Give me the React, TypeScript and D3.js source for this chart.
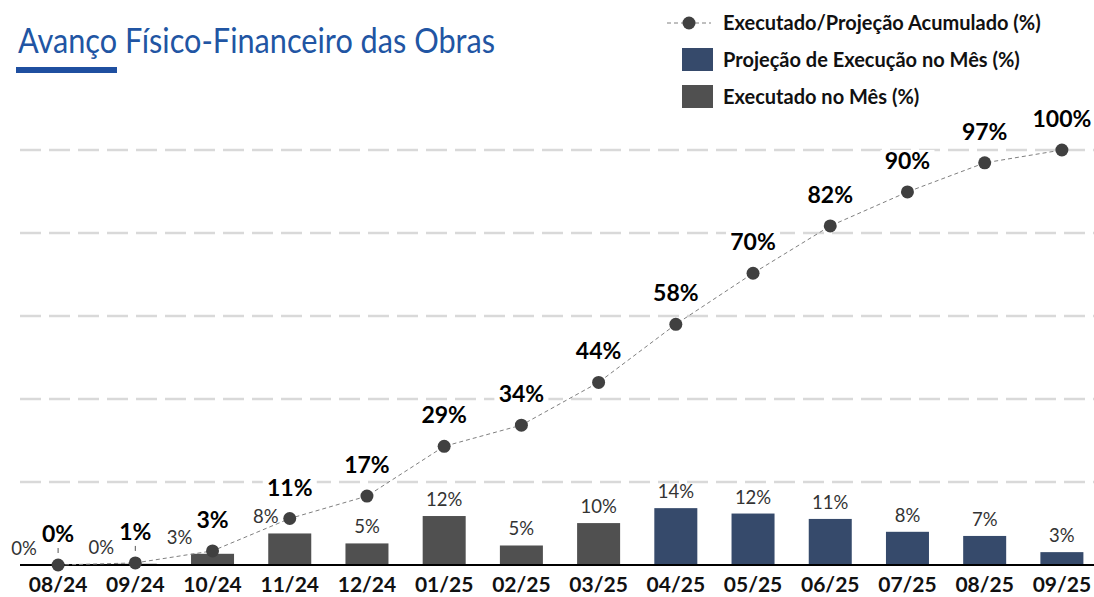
import React from "react";
import * as d3 from "d3";

const months = ["08/24","09/24","10/24","11/24","12/24","01/25","02/25","03/25","04/25","05/25","06/25","07/25","08/25","09/25"];
const executedMonthly: (number | null)[] = [0, 0.3, 2.7, 7.6, 5.2, 11.8, 4.7, 10.1, null, null, null, null, null, null];
const projectedMonthly: (number | null)[] = [null, null, null, null, null, null, null, null, 13.7, 12.4, 11.1, 8.0, 7.0, 3.1];
const cumulative = [0, 0.5, 3.4, 11.2, 16.6, 28.6, 33.7, 44, 58, 70.3, 81.7, 89.9, 96.9, 100];
const gridTicks = [20, 40, 60, 80, 100];
const barLabelShift = [-34, -34, -33, -24, 0, 0, 0, 0, 0, 0, 0, 0, 0, 0];

const W = 1094, H = 597;
const FONT = "Lato, 'Open Sans', sans-serif";
const EXEC_COLOR = "#505050";
const PROJ_COLOR = "#364A6B";

export default function App() {
  const x = d3.scaleBand<string>().domain(months).range([19.5, 1100.5]).paddingInner(0.443).paddingOuter(0.2215);
  const y = d3.scaleLinear().domain([0, 100]).range([565, 150]);
  const cx = (m: string) => (x(m) as number) + x.bandwidth() / 2;
  const line = d3.line<number>().x((_, i) => cx(months[i])).y((v) => y(v));

  const bars = months.map((m, i) => {
    const e = executedMonthly[i];
    const p = projectedMonthly[i];
    const v = e != null ? e : (p as number);
    return { m, i, v, color: e != null ? EXEC_COLOR : PROJ_COLOR };
  });

  return (
    <div style={{ position: "absolute", left: 0, top: 0 }}>
      <svg width={W} height={H} style={{ display: "block", background: "#fff" }}>
        {/* Title */}
        <text x={18} y={53} fontFamily={FONT} fontSize={34} fill="#2155A3" textLength={477} lengthAdjust="spacingAndGlyphs">Avanço Físico-Financeiro das Obras</text>
        <rect x={16} y={67} width={101} height={6} fill="#1F4FA0" />

        {/* Legend */}
        <line x1={667} x2={711} y1={23} y2={23} stroke="#808080" strokeWidth={1} strokeDasharray="4,3" />
        <circle cx={689} cy={23} r={6.5} fill="#404040" />
        <text x={723} y={30} fontFamily={FONT} fontWeight={700} fontSize={20} fill="#111">Executado/Projeção Acumulado (%)</text>
        <rect x={682} y={48} width={31} height={23} fill={PROJ_COLOR} />
        <text x={723} y={67} fontFamily={FONT} fontWeight={700} fontSize={20} fill="#111">Projeção de Execução no Mês (%)</text>
        <rect x={682} y={85} width={31} height={23} fill={EXEC_COLOR} />
        <text x={723} y={104} fontFamily={FONT} fontWeight={700} fontSize={20} fill="#111">Executado no Mês (%)</text>

        {/* Grid */}
        {gridTicks.map((t) => (
          <line key={t} x1={20} x2={W} y1={y(t)} y2={y(t)} stroke="#D9D9D9" strokeWidth={2.5} strokeDasharray="21,8" />
        ))}

        {/* Bars */}
        {bars.map((b) => (
          <rect key={b.m} x={x(b.m)} y={y(b.v)} width={x.bandwidth()} height={y(0) - y(b.v)} fill={b.color} />
        ))}
        {bars.map((b) => (
          <text key={"bl" + b.m} x={cx(b.m) + barLabelShift[b.i]} y={y(b.v) - 10} textAnchor="middle"
            fontFamily={FONT} fontSize={18.5} fill="#333">{Math.round(b.v)}%</text>
        ))}

        {/* Baseline */}
        <line x1={20} x2={W} y1={y(0)} y2={y(0)} stroke="#000" strokeWidth={2} />

        {/* Cumulative line */}
        <path d={line(cumulative) as string} fill="none" stroke="#808080" strokeWidth={1} strokeDasharray="4,3" />
        {cumulative.map((v, i) => (
          <circle key={"c" + i} cx={cx(months[i])} cy={y(v)} r={6.5} fill="#404040" />
        ))}
        {cumulative.slice(0, 2).map((v, i) => (
          <line key={"ld" + i} x1={cx(months[i])} x2={cx(months[i])} y1={y(v) - 17} y2={y(v) - 12} stroke="#555" strokeWidth={1} />
        ))}
        {cumulative.map((v, i) => {
          const label = `${Math.round(v)}%`;
          const w = label.length * 14 + 12;
          return (
            <g key={"cl" + i}>
              <rect x={cx(months[i]) - w / 2} y={y(v) - 42} width={w} height={21} fill="#fff" />
              <text x={cx(months[i])} y={y(v) - 23} textAnchor="middle"
                fontFamily={FONT} fontWeight={700} fontSize={23} fill="#000">{label}</text>
            </g>
          );
        })}

        {/* X axis labels */}
        {months.map((m) => (
          <text key={"x" + m} x={cx(m)} y={592} textAnchor="middle" fontFamily={FONT} fontWeight={700} fontSize={21} fill="#111">{m}</text>
        ))}
      </svg>
    </div>
  );
}
